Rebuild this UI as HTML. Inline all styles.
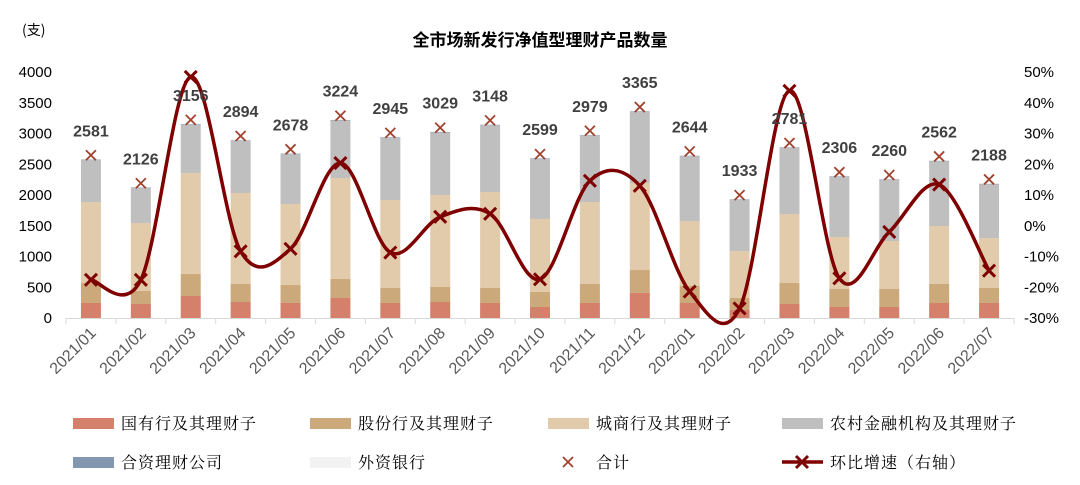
<!DOCTYPE html>
<html><head><meta charset="utf-8"><style>
body{margin:0;background:#fff;}
svg{display:block;}
text{font-family:"Liberation Sans","Noto Sans CJK SC",sans-serif;}
</style></head><body>
<svg id="chart" width="1080" height="485" viewBox="0 0 1080 485" xmlns="http://www.w3.org/2000/svg">
<text x="540" y="46" text-anchor="middle" font-size="17" font-weight="bold" fill="#000" style="font-family:'Noto Sans CJK SC',sans-serif">全市场新发行净值型理财产品数量</text>
<text x="22" y="35" font-size="14" fill="#000" style="font-family:'Noto Sans CJK SC',sans-serif">(支)</text>
<g id="plot"></g>
<g id="legend"></g>
</svg>
<script>
const categories=["2021/01","2021/02","2021/03","2021/04","2021/05","2021/06","2021/07","2021/08","2021/09","2021/10","2021/11","2021/12","2022/01","2022/02","2022/03","2022/04","2022/05","2022/06","2022/07"];
const stateBanks=[244,228,358,260,244,325,244,260,244,179,244,407,244,130,228,179,179,244,244];
const jointBanks=[325,211,357,293,293,309,244,244,244,244,309,373,276,195,341,293,293,309,244];
const cityBanks=[1317,1106,1643,1480,1317,1642,1431,1496,1561,1187,1333,1415,1057,764,1122,845,780,943,812];
const ruralBanks=[680,566,785,846,809,933,1011,1014,1084,974,1078,1155,1052,834,1075,974,993,1051,873];
const jvCompanies=[10,10,10,10,10,10,10,10,10,10,10,10,10,8,10,10,10,10,10];
const foreignBanks=[5,5,3,5,5,5,5,5,5,5,5,5,5,2,5,5,5,5,5];
const totals=[2581,2126,3156,2894,2678,3224,2945,3029,3148,2599,2979,3365,2644,1933,2781,2306,2260,2562,2188];
const growth=[-17.6,-17.6,48.4,-8.3,-7.5,20.4,-8.7,2.9,3.9,-17.4,14.6,13.0,-21.4,-26.9,43.9,-17.1,-2.0,13.4,-14.6];
const leftTicks=[0,500,1000,1500,2000,2500,3000,3500,4000];
const rightTicks=[-30,-20,-10,0,10,20,30,40,50];

const NS="http://www.w3.org/2000/svg";
const L=66,R=1014,T=72,B=318;
const n=categories.length, bw=(R-L)/n;
const xC=i=>L+bw*(i+0.5);
const yL=v=>B-(v/4000)*(B-T);
const yR=v=>B-((v+30)/80)*(B-T);
const plot=document.getElementById('plot'), leg=document.getElementById('legend');
function mk(tag,attrs,parent){const e=document.createElementNS(NS,tag);for(const k in attrs)e.setAttribute(k,attrs[k]);parent.appendChild(e);return e;}

const ax=mk('line',{x1:L,y1:B+0.5,x2:R,y2:B+0.5,stroke:'#d9d9d9','stroke-width':1},plot);

for(let i=0;i<=n;i++){const t=mk('line',{x1:L+bw*i,y1:B,x2:L+bw*i,y2:B+6,stroke:'#d9d9d9'},plot);
}
leftTicks.forEach(v=>{const t=mk('text',{x:52,y:yL(v)+5,'text-anchor':'end','font-size':15,fill:'#000'},plot);t.textContent=v;
});
rightTicks.forEach(v=>{const t=mk('text',{x:1024,y:yR(v)+5,'text-anchor':'start','font-size':15,fill:'#000'},plot);t.textContent=v+'%';
});
categories.forEach((c,i)=>{const x=xC(i)+6,y=B+16;const t=mk('text',{x:x,y:y,'text-anchor':'end','font-size':16,fill:'#595959',transform:`rotate(-45 ${x} ${y})`},plot);t.textContent=c;
});

const series=[[stateBanks,'#d4806b','bar-state-banks'],[jointBanks,'#cca97a','bar-joint-banks'],[cityBanks,'#e1cbab','bar-city-banks'],[ruralBanks,'#bfbfbf','bar-rural-banks'],[jvCompanies,'#8497b0','bar-jv-companies'],[foreignBanks,'#e8ebf0','bar-foreign-banks']];
categories.forEach((c,i)=>{let acc=0;series.forEach(([arr,col,name])=>{const y0=yL(acc),y1=yL(acc+arr[i]);acc+=arr[i];
const r=mk('rect',{x:xC(i)-10,y:y1,width:20,height:Math.max(0,y0-y1),fill:col},plot);
});});

const pts=growth.map((g,i)=>[xC(i),yR(g)]);
let d=`M${pts[0][0]},${pts[0][1]}`;
for(let i=0;i<pts.length-1;i++){const p0=pts[Math.max(0,i-1)],p1=pts[i],p2=pts[i+1],p3=pts[Math.min(pts.length-1,i+2)];
const c1=[p1[0]+(p2[0]-p0[0])/6,p1[1]+(p2[1]-p0[1])/6],c2=[p2[0]-(p3[0]-p1[0])/6,p2[1]-(p3[1]-p1[1])/6];
d+=` C${c1[0]},${c1[1]} ${c2[0]},${c2[1]} ${p2[0]},${p2[1]}`;}
const gl=mk('path',{d:d,fill:'none',stroke:'#7f0000','stroke-width':3.5},plot);

function cross(x,y,s,col,w,parent,name){const g=mk('path',{d:`M${x-s},${y-s}L${x+s},${y+s}M${x-s},${y+s}L${x+s},${y-s}`,stroke:col,'stroke-width':w,fill:'none'},parent);
}
pts.forEach(p=>cross(p[0],p[1],6,'#7f0000',3,plot,'growth-marker'));

totals.forEach((v,i)=>{cross(xC(i),yL(v)-4,5,'#a0432e',1.8,plot,'total-marker');
const t=mk('text',{x:xC(i),y:yL(v)-23,'text-anchor':'middle','font-size':16,'font-weight':'bold',fill:'#404040'},plot);t.textContent=v;
});

const items=[['国有行及其理财子','#d4806b','rect',73,423],['股份行及其理财子','#cca97a','rect',310,423],['城商行及其理财子','#e1cbab','rect',548,423],['农村金融机构及其理财子','#bfbfbf','rect',782,423],
['合资理财公司','#8497b0','rect',73,462],['外资银行','#f2f2f2','rect',310,462],['合计','#a0432e','x',548,462],['环比增速（右轴）','#7f0000','line',782,462]];
items.forEach(([lab,col,type,x,y])=>{const g=mk('g',{},leg);
if(type==='rect')mk('rect',{x:x,y:y-5,width:41,height:11,fill:col},g);
else if(type==='x')cross(x+20,y,5,col,1.8,g,'legend-marker');
else{mk('line',{x1:x,y1:y,x2:x+41,y2:y,stroke:col,'stroke-width':3.5},g);cross(x+20,y,6,col,3,g,'legend-marker');}
const t=mk('text',{x:x+48,y:y+6,'font-size':16,fill:'#000',style:"font-family:'Noto Serif CJK SC',serif;letter-spacing:1px"},g);t.textContent=lab;});
</script>
</body></html>
